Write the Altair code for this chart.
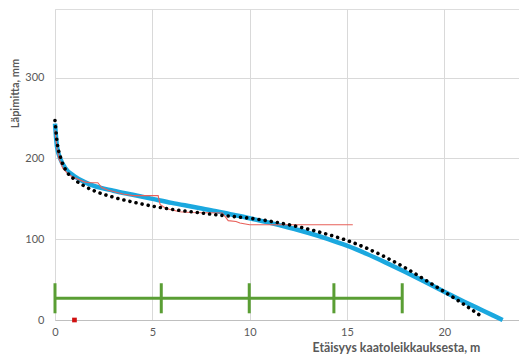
import altair as alt
import pandas as pd

# Fitted model curve (blue)
blue_x = [0, 0.1, 0.3, 0.5, 1, 1.5, 2, 3, 4, 5, 6, 7, 8, 9, 10, 11, 12, 13, 14, 15, 16, 17, 18, 19, 20, 21, 22, 23]
blue_y = [243, 215, 198, 189, 178, 171, 166, 160, 155, 150, 145, 140.5, 136, 131, 126, 120.5, 114.5, 108, 100.5, 92, 82, 71, 59.5, 47.5, 35, 23, 11.5, 0]

# Second model curve (black dotted)
black_x = [0, 0.1, 0.3, 0.5, 1, 1.5, 2, 3, 4, 5, 6, 7, 8, 9, 10, 11, 12, 13, 14, 15, 16, 17, 18, 19, 20, 21, 22]
black_y = [247, 222, 200, 188, 174, 166, 160, 152, 146, 141, 137, 134, 131, 128.5, 126, 122.5, 118, 112.5, 106, 98.5, 89, 77.5, 64.5, 50, 35, 19.5, 3]

# Measured diameter (red)
red_x = [0, 0.1, 0.2, 0.4, 0.7, 1.0, 1.5, 1.8, 2.2, 2.4, 2.7, 3.0, 3.5, 4.0, 5.3, 5.4, 5.7, 6.4, 7.0, 8.6, 8.9, 9.3, 9.5, 10.0, 15.3]
red_y = [235, 212, 200, 188, 180, 176, 171, 170, 170, 164, 161, 159, 156, 154, 154, 143, 138, 134, 133, 132.5, 123, 122, 120, 118, 118]

# Bucking points (green)
cut_x = [0, 5.46, 9.98, 14.33, 17.84]
cut_low = 8.3
cut_high = 45.5
cut_level = 27

# Single red point
pt_x = [1.0]
pt_y = [0]

FONT = "Lato"
GRAY = "#595959"

xscale = alt.Scale(domain=[0, 23.84], nice=False, zero=False)
yscale = alt.Scale(domain=[0, 385], nice=False)

xaxis = alt.Axis(values=[0, 5, 10, 15, 20], title="Etäisyys kaatoleikkauksesta, m",
                 grid=True, gridColor="#D9D9D9", domain=True, domainColor="#BFBFBF",
                 ticks=False, tickSize=0, labelPadding=6, labelFlush=False, labelFont=FONT,
                 labelFontSize=11, labelColor=GRAY, titleFont=FONT, titleFontSize=12.3,
                 titleFontWeight="bold", titleColor=GRAY, titleX=341, titleY=21,
                 titleAlign="center", titleBaseline="top")
yaxis = alt.Axis(values=[0, 100, 200, 300], title="Läpimitta, mm",
                 grid=True, gridColor="#D9D9D9", domain=False, labelFlush=False,
                 ticks=False, tickSize=0, labelPadding=11, labelFont=FONT, labelFontSize=11,
                 labelColor=GRAY, titleFont=FONT, titleFontSize=11, titleFontWeight="bold",
                 titleColor=GRAY, titleX=-35, titleY=84, titleAlign="center", titleAngle=-90,
                 titleBaseline="bottom")

blue_df = pd.DataFrame({"x": blue_x, "y": blue_y})
black_df = pd.DataFrame({"x": black_x, "y": black_y})
red_df = pd.DataFrame({"x": red_x, "y": red_y})
cut_df = pd.DataFrame({"x": cut_x, "lo": [cut_low] * len(cut_x), "hi": [cut_high] * len(cut_x)})
hline_df = pd.DataFrame({"x": [cut_x[0]], "x2": [cut_x[-1]], "y": [cut_level]})
pt_df = pd.DataFrame({"x": pt_x, "y": pt_y})

blue = alt.Chart(blue_df).mark_line(color="#1BA8DF", strokeWidth=4.5, interpolate="monotone").encode(
    x=alt.X("x:Q", scale=xscale, axis=xaxis),
    y=alt.Y("y:Q", scale=yscale, axis=yaxis),
)
red = alt.Chart(red_df).mark_line(color="#E8605A", strokeWidth=1.1).encode(
    x=alt.X("x:Q", scale=xscale), y=alt.Y("y:Q", scale=yscale)
)
black = alt.Chart(black_df).mark_line(color="#000000", strokeWidth=3.6, strokeCap="round",
                                      strokeDash=[0.01, 6.2], interpolate="monotone").encode(
    x=alt.X("x:Q", scale=xscale), y=alt.Y("y:Q", scale=yscale)
)
hline = alt.Chart(hline_df).mark_rule(color="#5A9E34", strokeWidth=3).encode(
    x=alt.X("x:Q", scale=xscale), x2="x2:Q", y=alt.Y("y:Q", scale=yscale)
)
ticks = alt.Chart(cut_df).mark_rule(color="#5A9E34", strokeWidth=3).encode(
    x=alt.X("x:Q", scale=xscale), y=alt.Y("lo:Q", scale=yscale), y2="hi:Q"
)
pt = alt.Chart(pt_df).mark_square(color="#D01010", size=22, opacity=1).encode(
    x=alt.X("x:Q", scale=xscale), y=alt.Y("y:Q", scale=yscale)
)

chart = alt.layer(blue, red, black, hline, ticks, pt).properties(
    width=464, height=311,
    autosize=alt.AutoSizeParams(type="none"),
    padding={"left": 47, "top": 1, "right": 0, "bottom": 35},
).configure_view(stroke=None).configure(background="white")

chart.save("out.html", embed_options={"renderer": "svg", "actions": False})
